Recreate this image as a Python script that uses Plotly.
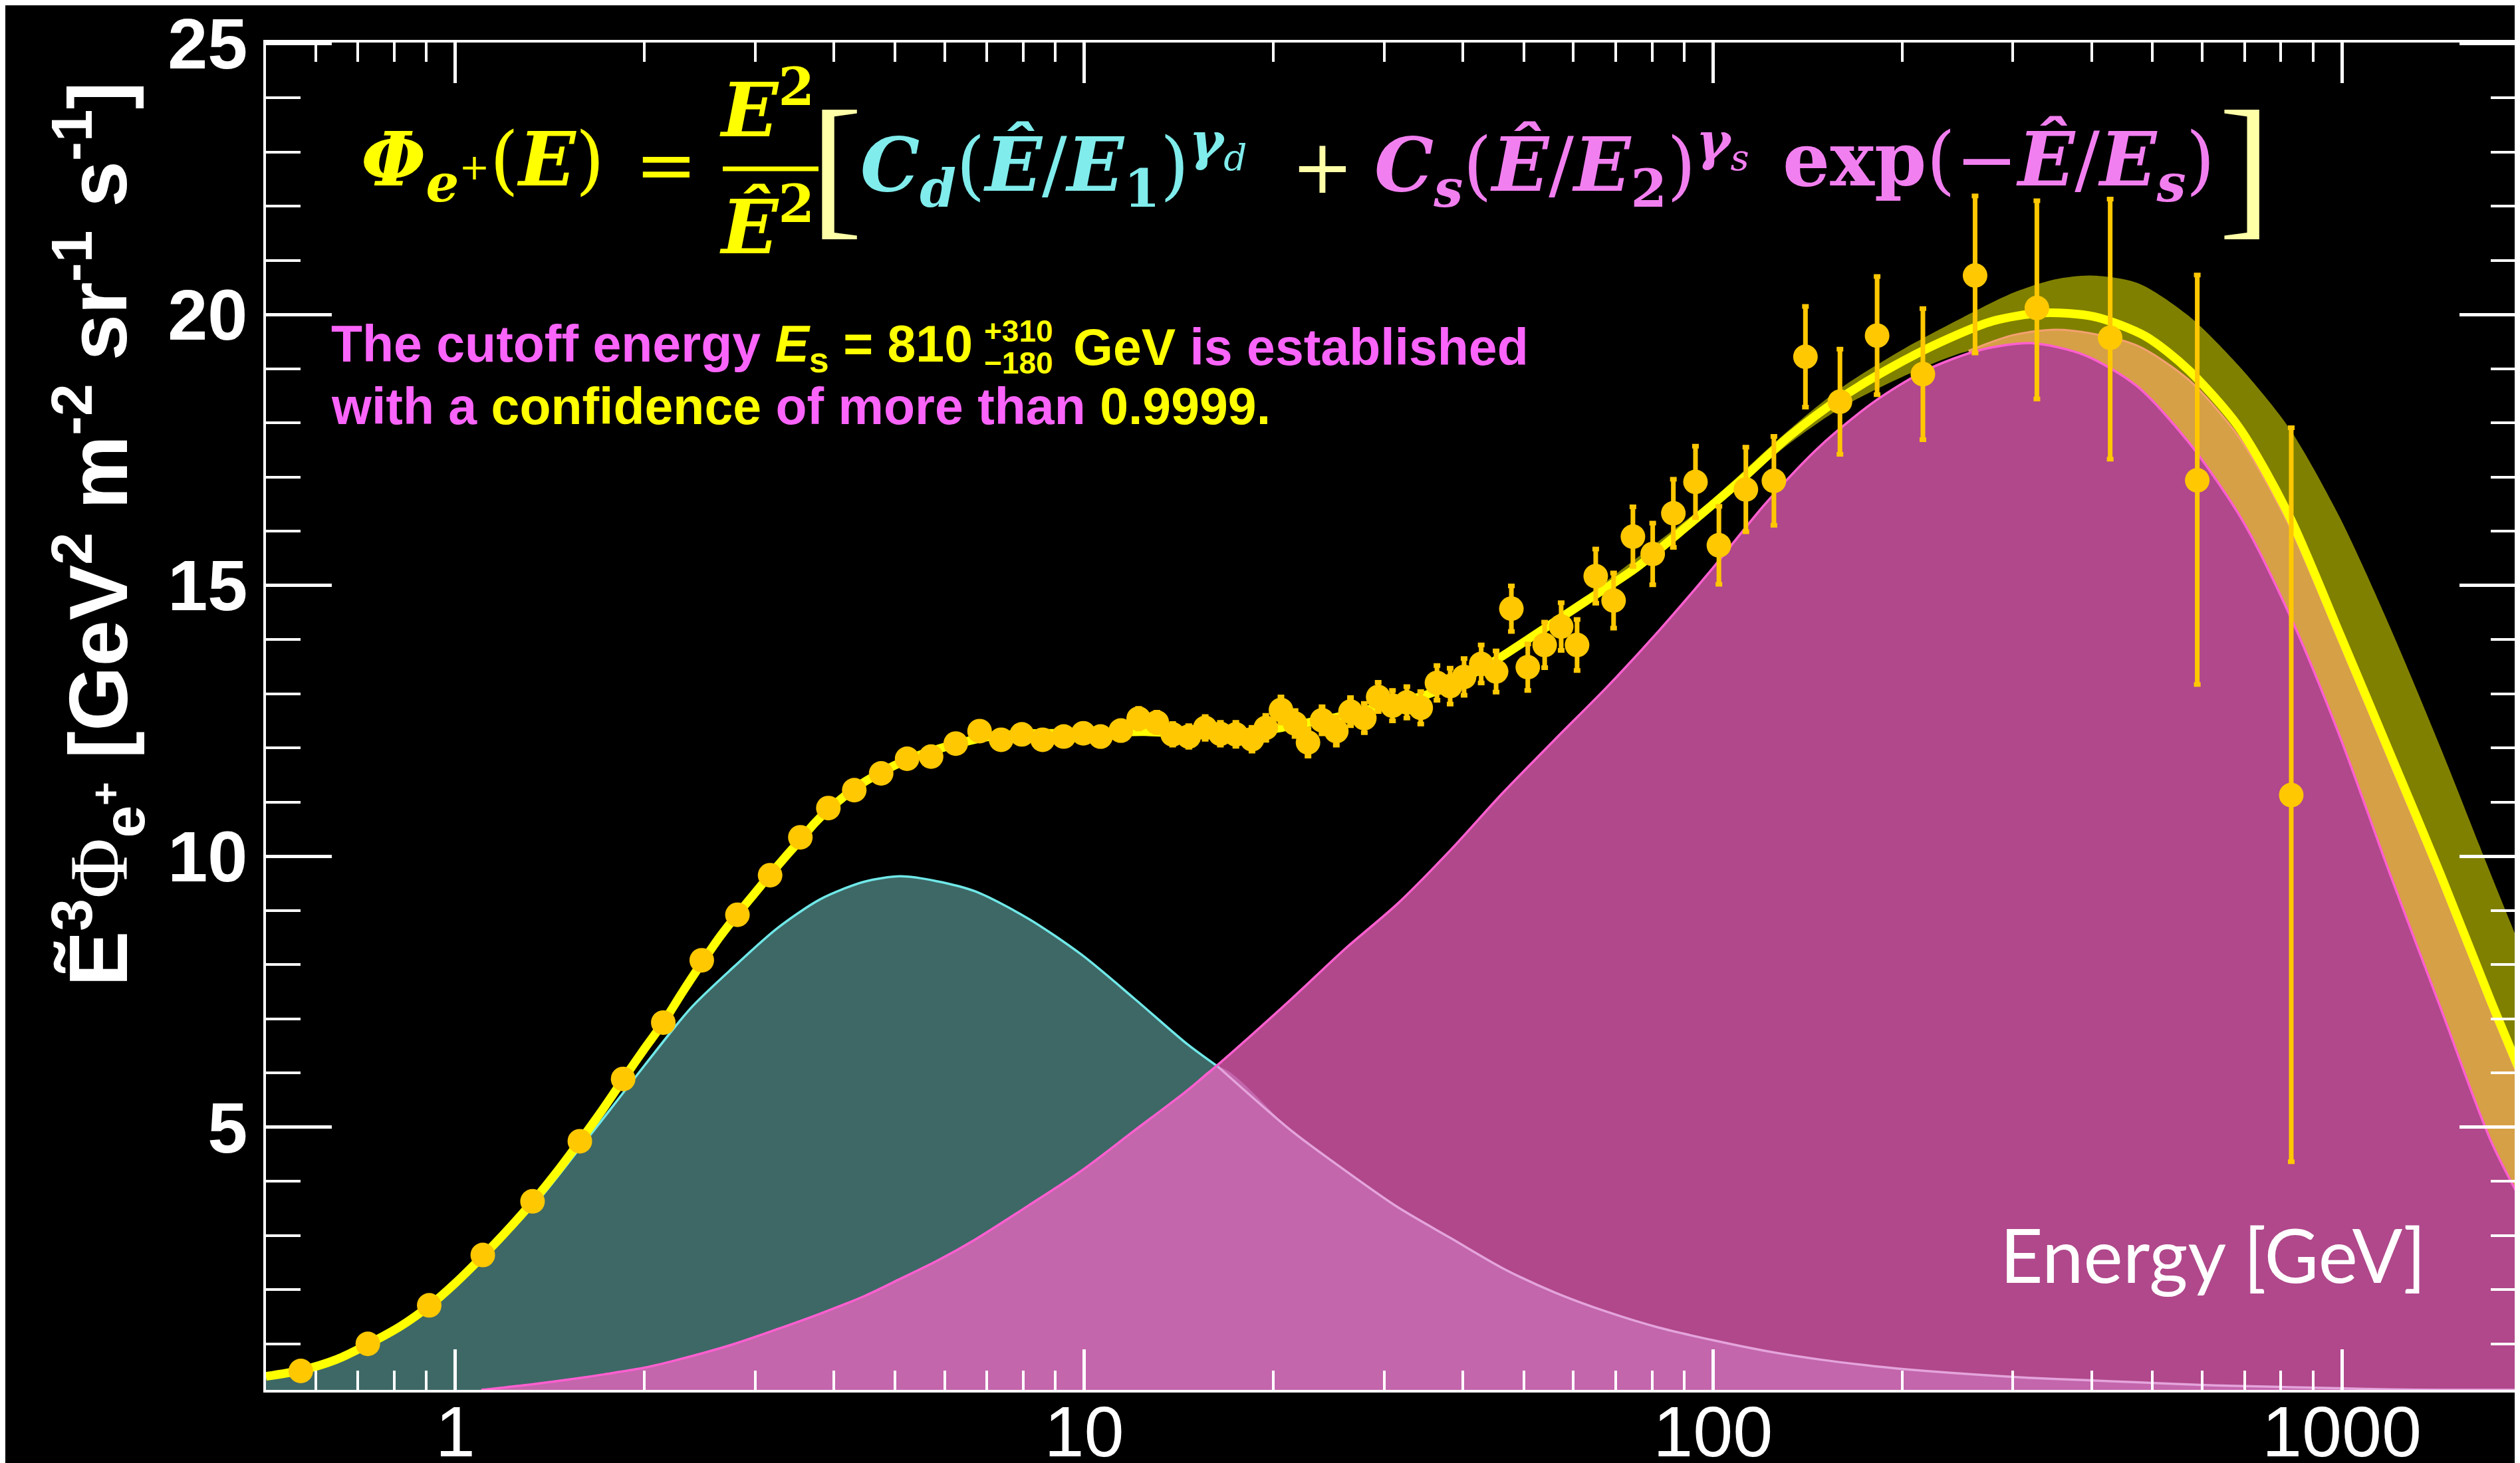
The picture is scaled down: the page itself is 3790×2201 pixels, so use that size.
import numpy as np
import plotly.graph_objects as go

# ---------------- data ----------------
# measured points: energy [GeV], E^3*flux, upper / lower error
energy = [0.568, 0.726, 0.909, 1.106, 1.327, 1.578, 1.849, 2.142, 2.466, 2.81,
          3.167, 3.538, 3.92, 4.31, 4.756, 5.23, 5.71, 6.25, 6.82, 7.38,
          7.96, 8.59, 9.28, 9.97, 10.62, 11.44, 12.21, 13.05, 13.83, 14.67,
          15.58, 16.47, 17.43, 18.49, 19.45, 20.56, 21.65, 22.7, 23.9, 25.18,
          26.52, 27.9, 29.35, 30.93, 32.6, 34.3, 36.4, 38.2, 40.2, 42.8,
          45.2, 47.8, 50.76, 54.0, 57.36, 60.8, 65.1, 69.5, 74.6, 80.2,
          86.5, 93.8, 102.2, 112.8, 125.0, 140.3, 159.2, 182.4, 215.7, 261.1,
          327.4, 428.2, 589.0, 831.0]
flux = [0.50, 1.00, 1.71, 2.64, 3.63, 4.74, 5.89, 6.93, 8.08, 8.92,
        9.65, 10.35, 10.89, 11.22, 11.53, 11.80, 11.84, 12.08, 12.31, 12.15,
        12.25, 12.15, 12.21, 12.27, 12.21, 12.32, 12.54, 12.47, 12.25, 12.21,
        12.37, 12.26, 12.25, 12.16, 12.37, 12.70, 12.45, 12.10, 12.51, 12.31,
        12.67, 12.55, 12.94, 12.78, 12.84, 12.74, 13.20, 13.14, 13.31, 13.55,
        13.41, 14.57, 13.49, 13.90, 14.24, 13.90, 15.17, 14.72, 15.90, 15.58,
        16.33, 16.91, 15.74, 16.77, 16.93, 19.22, 18.39, 19.61, 18.90, 20.72,
        20.12, 19.57, 16.94, 11.13]
err_up = [0.03, 0.04, 0.05, 0.05, 0.06, 0.07, 0.08, 0.08, 0.09, 0.10,
          0.10, 0.11, 0.11, 0.12, 0.12, 0.13, 0.13, 0.14, 0.15, 0.15,
          0.16, 0.16, 0.17, 0.17, 0.18, 0.18, 0.19, 0.19, 0.20, 0.20,
          0.21, 0.21, 0.22, 0.22, 0.23, 0.24, 0.24, 0.25, 0.25, 0.26,
          0.26, 0.27, 0.27, 0.28, 0.29, 0.30, 0.32, 0.33, 0.34, 0.35,
          0.38, 0.42, 0.43, 0.42, 0.44, 0.47, 0.50, 0.51, 0.55, 0.57,
          0.63, 0.66, 0.72, 0.78, 0.82, 0.93, 0.97, 1.09, 1.21, 1.47,
          1.98, 2.56, 3.79, 6.78]
err_dn = [0.03, 0.04, 0.05, 0.05, 0.06, 0.07, 0.08, 0.08, 0.09, 0.10,
          0.10, 0.11, 0.11, 0.12, 0.12, 0.13, 0.13, 0.14, 0.15, 0.15,
          0.16, 0.16, 0.17, 0.17, 0.18, 0.18, 0.19, 0.19, 0.20, 0.20,
          0.21, 0.21, 0.22, 0.22, 0.23, 0.24, 0.24, 0.25, 0.25, 0.26,
          0.26, 0.27, 0.27, 0.28, 0.29, 0.30, 0.32, 0.33, 0.34, 0.35,
          0.38, 0.42, 0.43, 0.42, 0.44, 0.47, 0.50, 0.51, 0.55, 0.57,
          0.63, 0.66, 0.72, 0.78, 0.82, 0.93, 0.97, 1.09, 1.21, 1.43,
          1.68, 2.24, 3.77, 6.77]

# total fit (yellow line)
fit_e = [0.5, 0.568, 0.65, 0.726, 0.82, 0.909, 1.0, 1.106, 1.2, 1.327,
         1.45, 1.578, 1.7, 1.849, 2.0, 2.142, 2.3, 2.466, 2.63, 2.81,
         3.0, 3.167, 3.35, 3.538, 3.72, 3.92, 4.1, 4.31, 4.756, 5.23,
         5.75, 6.3, 7.0, 8.0, 9.0, 10.0, 11.0, 12.5, 14.0, 16.0,
         18.0, 20.5, 23.0, 26.0, 30.0, 35.0, 40.0, 45.6, 52.6, 63.0,
         75.6, 91.1, 109.7, 132.2, 159.2, 191.9, 231.2, 278.6, 335.0, 404.0,
         487.0, 570.0, 686.0, 825.0, 993.0, 1194.0, 1436.0, 1727.0, 1958.0]
fit_v = [0.40, 0.51, 0.72, 0.99, 1.33, 1.70, 2.12, 2.62, 3.05, 3.62,
         4.17, 4.74, 5.26, 5.88, 6.45, 6.93, 7.50, 8.03, 8.50, 8.93,
         9.33, 9.66, 9.99, 10.30, 10.60, 10.86, 11.05, 11.25, 11.55, 11.78,
         11.95, 12.08, 12.20, 12.26, 12.27, 12.28, 12.29, 12.30, 12.27, 12.25,
         12.27, 12.37, 12.48, 12.60, 12.78, 12.98, 13.27, 13.65, 14.12, 14.72,
         15.33, 16.10, 16.90, 17.75, 18.45, 19.02, 19.50, 19.88, 20.03, 19.96,
         19.60, 18.98, 17.92, 16.28, 14.10, 11.89, 9.66, 7.32, 5.80]

# diffuse and source terms, same energy grid
comp_e = [0.5, 0.57, 0.73, 0.91, 1.1, 1.34, 1.58, 1.73, 2.0, 2.37,
          2.78, 3.25, 3.81, 4.47, 5.1, 5.83, 6.72, 8.15, 9.89, 12.0,
          14.56, 16.35, 21.43, 26.0, 31.55, 38.3, 46.4, 56.0, 68.3, 82.0,
          100.6, 121.0, 148.0, 180.0, 218.0, 265.0, 321.0, 390.0, 472.0, 570.0,
          695.0, 830.0, 990.0, 1194.0, 1436.0, 1727.0, 1958.0]
diffuse_v = [0.38, 0.49, 0.99, 1.68, 2.55, 3.58, 4.62, 5.20, 6.14, 7.20,
             7.97, 8.67, 9.21, 9.53, 9.63, 9.54, 9.35, 8.85, 8.19, 7.38,
             6.54, 6.11, 4.92, 4.20, 3.52, 2.95, 2.39, 1.95, 1.58, 1.30,
             1.06, 0.87, 0.71, 0.59, 0.50, 0.43, 0.37, 0.33, 0.29, 0.25,
             0.22, 0.20, 0.18, 0.16, 0.15, 0.15, 0.15]
source_v = [0.02, 0.03, 0.06, 0.10, 0.15, 0.26, 0.37, 0.44, 0.56, 0.77,
            1.00, 1.27, 1.56, 1.88, 2.20, 2.53, 2.93, 3.55, 4.19, 4.93,
            5.67, 6.16, 7.38, 8.29, 9.13, 10.12, 11.18, 12.15, 13.16, 14.16,
            15.36, 16.50, 17.57, 18.38, 18.97, 19.34, 19.47, 19.25, 18.68, 17.65,
            16.20, 14.40, 12.25, 9.66, 7.20, 4.74, 3.50]
crossing_e = 16.35

# uncertainty band of the total fit (olive)
band_e = [60.0, 80.0, 100.0, 130.0, 160.0, 200.0, 250.0, 300.0, 350.0, 400.0,
          474.0, 570.0, 686.0, 825.0, 993.0, 1194.0, 1436.0, 1727.0, 1958.0]
band_lo = [14.48, 15.52, 16.40, 17.55, 18.28, 18.85, 19.30, 19.45, 19.40, 19.20,
           18.67, 17.65, 16.30, 14.45, 12.20, 9.66, 7.20, 4.74, 3.50]
band_hi = [14.62, 15.72, 16.60, 17.80, 18.65, 19.35, 19.95, 20.40, 20.65, 20.72,
           20.58, 19.98, 19.05, 17.90, 16.25, 14.22, 12.00, 9.66, 8.10]

# uncertainty band of the source term (orange)
sband_e = [255.0, 300.0, 350.0, 400.0, 474.0, 570.0, 686.0, 825.0, 993.0, 1194.0,
           1436.0, 1727.0, 1958.0]
sband_lo = [19.30, 19.45, 19.42, 19.20, 18.67, 17.65, 16.30, 14.45, 12.20, 9.66,
            7.20, 4.74, 3.50]
sband_hi = [19.33, 19.62, 19.72, 19.65, 19.42, 18.80, 17.74, 16.10, 13.92, 11.71,
            9.48, 7.14, 5.62]

x_tick_vals = [1, 10, 100, 1000]
x_tick_text = ["1", "10", "100", "1000"]
y_tick_vals = [5, 10, 15, 20, 25]
y_tick_text = ["5", "10", "15", "20", "25"]

# ---------------- layout geometry ----------------
W, H = 3790, 2201
ML, MR, MT, MB = 392, 0, 56, 118


def px(X):
    return (X - ML) / (W - ML - MR)


def py(Y):
    return (H - MB - Y) / (H - MB - MT)


YEL = "#FFFF00"
GOLD = "#FFC800"
CYAN = "#80ECEC"
PINK = "#F27FF0"
MAG = "#FA64FA"
PALE = "#FFFFA8"

fig = go.Figure()

spl = dict(shape="spline", smoothing=0.8)

# olive total band
fig.add_trace(go.Scatter(x=band_e, y=band_lo, mode="lines",
                         line=dict(width=0, **spl), hoverinfo="skip"))
fig.add_trace(go.Scatter(x=band_e, y=band_hi, mode="lines", fill="tonexty",
                         fillcolor="#808000", line=dict(width=0, **spl),
                         hoverinfo="skip"))

# source fill, diffuse fill, overlap fill
overlap_v = np.minimum(np.array(diffuse_v), np.array(source_v))
fig.add_trace(go.Scatter(x=comp_e, y=source_v, mode="lines", fill="tozeroy",
                         fillcolor="#B0488B", line=dict(width=0, **spl)))
fig.add_trace(go.Scatter(x=comp_e, y=diffuse_v, mode="lines", fill="tozeroy",
                         fillcolor="#3E6866", line=dict(width=0, **spl)))
fig.add_trace(go.Scatter(x=comp_e, y=overlap_v, mode="lines", fill="tozeroy",
                         fillcolor="#C366AC", line=dict(width=0, **spl)))

# orange source band
fig.add_trace(go.Scatter(x=sband_e, y=sband_lo, mode="lines",
                         line=dict(width=0, **spl)))
fig.add_trace(go.Scatter(x=sband_e, y=sband_hi, mode="lines", fill="tonexty",
                         fillcolor="#D6A046", line=dict(width=0, **spl)))

# component lines
ic = comp_e.index(crossing_e)
fig.add_trace(go.Scatter(x=comp_e[:ic + 1], y=diffuse_v[:ic + 1], mode="lines",
                         line=dict(color="#70E8E8", width=3.5, **spl)))
fig.add_trace(go.Scatter(x=comp_e[ic:], y=diffuse_v[ic:], mode="lines",
                         line=dict(color="#E4A4DC", width=3.5, **spl)))
fig.add_trace(go.Scatter(x=comp_e[4:], y=source_v[4:], mode="lines",
                         line=dict(color="#FF5FD0", width=3.5, **spl)))
fig.add_trace(go.Scatter(x=sband_e, y=sband_hi, mode="lines",
                         line=dict(color="#F4A070", width=3, **spl)))

# total fit
fig.add_trace(go.Scatter(x=fit_e, y=fit_v, mode="lines",
                         line=dict(color=YEL, width=13, **spl)))

# data
fig.add_trace(go.Scatter(
    x=energy, y=flux, mode="markers",
    marker=dict(color=GOLD, size=37, line=dict(width=0)),
    error_y=dict(type="data", symmetric=False, array=err_up, arrayminus=err_dn,
                 color=GOLD, thickness=7, width=5)))

# ---------------- annotations ----------------
ann = []


def add_text(text, X, Y, size, color, family, xanchor="left", weight="normal",
             angle=0):
    ann.append(dict(text=text, x=px(X), y=py(Y), xref="paper", yref="paper",
                    xanchor=xanchor, yanchor="middle", showarrow=False,
                    borderpad=0, textangle=angle,
                    font=dict(size=size, color=color, family=family,
                              weight=weight)))


SERIF = "DejaVu Serif"
FS = 112
add_text("<b><i>Φ</i></b><sub><b><i>e</i></b><sup>+</sup></sub>(<b><i>E</i></b>)",
         534, 240, FS, YEL, SERIF)
add_text("=", 994, 240, FS, YEL, SERIF, xanchor="center")
add_text("<b><i>E</i></b><sup><b>2</b></sup>", 1145, 150, FS, YEL, SERIF,
         xanchor="center")
add_text("<b><i>Ê</i></b><sup><b>2</b></sup>", 1145, 325, FS, YEL, SERIF,
         xanchor="center")
add_text("[", 1250, 241, 235, PALE, "Liberation Serif", xanchor="center")
add_text("<b><i>C</i></b><sub><b><i>d</i></b></sub>(<b><i>Ê</i></b>/<b><i>E</i></b>"
         "<sub><b>1</b></sub>)<sup><b><i>γ</i></b><sub><i>d</i></sub></sup>",
         1285, 240, FS, CYAN, SERIF)
add_text("+", 1981, 243, FS, PALE, SERIF, xanchor="center")
add_text("<b><i>C</i></b><sub><b><i>s</i></b></sub>(<b><i>Ê</i></b>/<b><i>E</i></b>"
         "<sub><b>2</b></sub>)<sup><b><i>γ</i></b><sub><i>s</i></sub></sup>",
         2058, 240, FS, PINK, SERIF)
add_text("<b>exp</b>(−<b><i>Ê</i></b>/<b><i>E</i></b><sub><b><i>s</i></b></sub>)",
         2672, 240, FS, PINK, SERIF)
add_text("]", 3368, 241, 235, PALE, "Liberation Serif", xanchor="center")

SANS = "Liberation Sans, Arial"
add_text(f"<span style='color:{MAG}'>The cutoff energy </span><i>E</i><sub>s</sub> = 810",
         489, 514, 77, YEL, SANS, weight="bold")
add_text("+310", 1471, 490, 46, YEL, SANS, weight="bold")
add_text("−180", 1471, 538, 46, YEL, SANS, weight="bold")
add_text(f"GeV<span style='color:{MAG}'> is established</span>",
         1605, 514, 77, YEL, SANS, weight="bold")
add_text(f"<span style='color:{MAG}'>with a </span>confidence"
         f"<span style='color:{MAG}'> of more than </span>0.9999.",
         489, 603, 77, YEL, SANS, weight="bold")

add_text("Energy [GeV]", 3642, 1878, 112, "white", "Lato", xanchor="right")

add_text("Ẽ<sup>3</sup><span style='font-family:Liberation Serif;font-weight:normal'>Φ</span>"
         "<sub>e<sup>+</sup></sub> [GeV<sup>2</sup> m<sup>-2</sup> sr<sup>-1</sup> s<sup>-1</sup>]",
         140, 796, 125, "white", SANS, xanchor="center", weight="bold", angle=-90)

fig.add_shape(type="line", xref="paper", yref="paper",
              x0=px(1079), x1=px(1223), y0=py(246), y1=py(246),
              line=dict(color=YEL, width=7))

fig.update_layout(
    width=W, height=H,
    margin=dict(l=ML, r=MR, t=MT, b=MB, pad=0, autoexpand=False),
    paper_bgcolor="black", plot_bgcolor="black",
    showlegend=False,
    annotations=ann,
    xaxis=dict(type="log", range=[np.log10(0.5), np.log10(1958)],
               automargin=False, ticklabeloverflow="allow",
               tickvals=x_tick_vals, ticktext=x_tick_text,
               ticks="inside", ticklen=61, tickwidth=5, tickcolor="white",
               showline=True, linecolor="white", linewidth=4, mirror="ticks",
               showgrid=False, zeroline=False,
               tickfont=dict(family=SANS, size=108, color="white"),
               ticklabelstandoff=-34,
               minor=dict(ticks="inside", ticklen=29, tickwidth=4,
                          tickcolor="white", dtick="D1", showgrid=False)),
    yaxis=dict(range=[0.15, 25.02], automargin=False, ticklabeloverflow="allow",
               tickvals=y_tick_vals, ticktext=y_tick_text,
               ticks="inside", ticklen=99, tickwidth=5, tickcolor="white",
               showline=True, linecolor="white", linewidth=4, mirror="ticks",
               showgrid=False, zeroline=False,
               tickfont=dict(family=SANS, size=108, color="white", weight="bold"),
               ticklabelstandoff=2,
               minor=dict(ticks="inside", ticklen=52, tickwidth=4,
                          tickcolor="white", dtick=1, showgrid=False)),
)

fig.write_html("out.html")
